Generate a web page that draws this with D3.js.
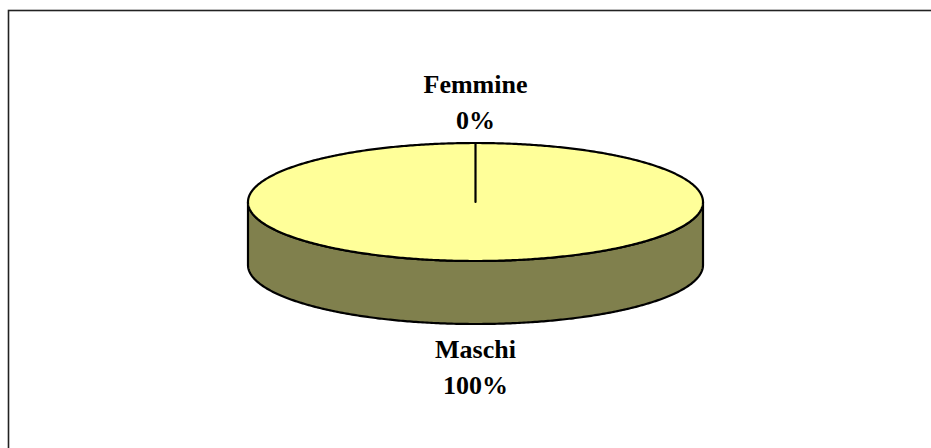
<!DOCTYPE html>
<html>
<head>
<meta charset="utf-8">
<script src="https://cdn.jsdelivr.net/npm/d3@7"></script>
<style>
  html, body { margin: 0; padding: 0; background: #fff; }
  svg { display: block; }
</style>
</head>
<body>
<svg id="chart" width="931" height="448"></svg>
<script>
const categories = ["Femmine", "Maschi"];
const values = [0, 100];
const percentLabels = ["0%", "100%"];

const W = 931, H = 448;
const svg = d3.select("#chart");

// chart border
svg.append("rect")
  .attr("x", 8.5).attr("y", 10.5)
  .attr("width", 930).attr("height", 460)
  .attr("fill", "#fff").attr("stroke", "#222").attr("stroke-width", 1.6);

const cx = 475.5, cy = 202, rx = 227.5, ry = 59, depth = 63;
const topColor = "#FFFF99", sideColor = "#80804D";

const pie = d3.pie().sort(null).startAngle(0).endAngle(2 * Math.PI);
const arcs = pie(values);

// scales mapping unit circle to the ellipse
const sx = d3.scaleLinear().domain([-1, 1]).range([cx - rx, cx + rx]);
const sy = d3.scaleLinear().domain([-1, 1]).range([cy - ry, cy + ry]);

function pt(a, dy = 0) { return [sx(Math.sin(a)), sy(-Math.cos(a)) + dy]; }

function arcPoints(a0, a1, dy = 0) {
  const n = Math.max(2, Math.ceil(Math.abs(a1 - a0) / 0.01));
  const pts = [];
  for (let i = 0; i <= n; i++) pts.push(pt(a0 + (a1 - a0) * i / n, dy));
  return pts;
}
const line = d3.line();

const g = svg.append("g");

// sides (visible front half: angle in [PI/2, 3PI/2])
arcs.forEach(d => {
  const a0 = Math.max(d.startAngle, Math.PI / 2);
  const a1 = Math.min(d.endAngle, 3 * Math.PI / 2);
  if (a1 <= a0) return;
  const topPts = arcPoints(a0, a1);
  const botPts = arcPoints(a1, a0, depth);
  g.append("path")
    .attr("d", line(topPts.concat(botPts)) + "Z")
    .attr("fill", sideColor).attr("stroke", "#000").attr("stroke-width", 2.2)
    .attr("stroke-linejoin", "round");
});

// tops
arcs.forEach(d => {
  if (d.endAngle - d.startAngle <= 0) return;
  const pts = [[cx, cy]].concat(arcPoints(d.startAngle, d.endAngle));
  g.append("path")
    .attr("d", line(pts) + "Z")
    .attr("fill", topColor).attr("stroke", "#000").attr("stroke-width", 2.2)
    .attr("stroke-linejoin", "round");
});

// labels
arcs.forEach((d, i) => {
  const mid = (d.startAngle + d.endAngle) / 2;
  const front = Math.cos(mid) < 0;
  const lx = sx(Math.sin(mid) * 1.0);
  const baseY = front ? cy + depth + ry + 52 : cy - ry - 32;
  const t = svg.append("text")
    .attr("x", lx).attr("y", baseY)
    .attr("text-anchor", "middle")
    .attr("font-family", "'Liberation Serif', 'Times New Roman', serif")
    .attr("font-weight", "bold").attr("font-size", 26)
    .attr("fill", "#000");
  t.append("tspan").attr("x", lx).attr("dy", -18).text(categories[i]);
  t.append("tspan").attr("x", lx).attr("dy", 36).text(percentLabels[i]);
});
</script>
</body>
</html>
